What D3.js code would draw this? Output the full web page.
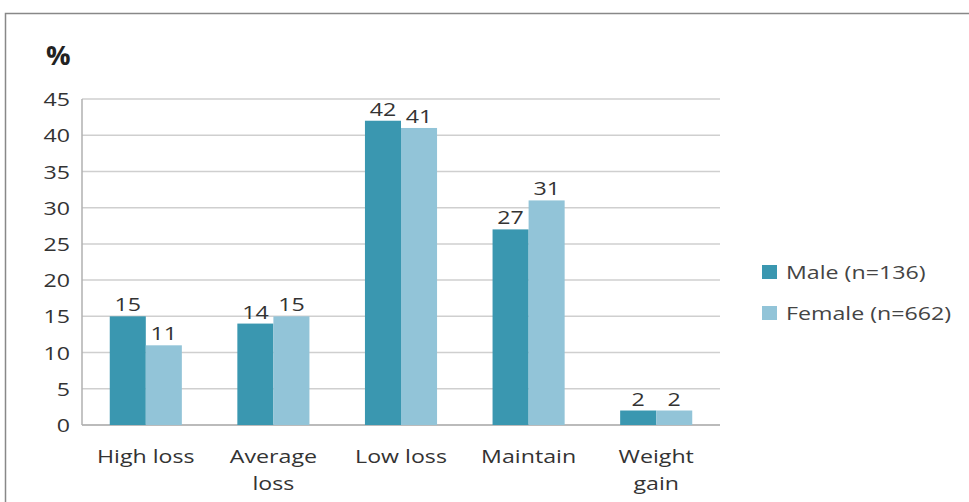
<!DOCTYPE html>
<html><head><meta charset="utf-8">
<script src="https://cdn.jsdelivr.net/npm/d3@7"></script>
<style>body{margin:0;background:#fff;} svg{display:block;}</style>
</head><body>
<script>
const categories = [["High loss"],["Average","loss"],["Low loss"],["Maintain"],["Weight","gain"]];
const seriesNames = ["Male (n=136)","Female (n=662)"];
const male = [15,14,42,27,2];
const female = [11,15,41,31,2];
const yTicks = [0,5,10,15,20,25,30,35,40,45];
const colors = ["#3a97b0","#92c4d8"];

const W=969,H=502;
const svg=d3.select("body").append("svg").attr("width",W).attr("height",H);
const font="'Open Sans', sans-serif";
const SX=1.22, FS=19;
function label(parent,x,y,txt,anchor,opts={}){
  const t=parent.append("text").attr("transform",`translate(${x},${y}) scale(${opts.sx||SX},1)`)
   .attr("text-anchor",anchor).attr("font-family",font).attr("font-size",opts.fs||FS)
   .attr("fill",opts.fill||"#333").text(txt);
  if(opts.bold) t.attr("font-weight","bold");
  return t;
}
// frame
svg.append("path").attr("d","M5.5,502 L5.5,13.5 L969,13.5").attr("fill","none").attr("stroke","#888").attr("stroke-width",1.5);

const L=82,R=720,T=99,B=425;
const x0=d3.scaleBand().domain(d3.range(categories.length)).range([L,R]).paddingInner(0.435).paddingOuter(0.2175);
const x1=d3.scaleBand().domain([0,1]).range([0,x0.bandwidth()]);
const y=d3.scaleLinear().domain([0,45]).range([B,T]);

const g=svg.append("g");
g.selectAll("line.grid").data(yTicks).join("line")
 .attr("x1",L).attr("x2",R).attr("y1",d=>y(d)).attr("y2",d=>y(d))
 .attr("stroke","#cfcfcf").attr("stroke-width",1.5);
g.append("line").attr("x1",L).attr("x2",L).attr("y1",T).attr("y2",B).attr("stroke","#b0b0b0").attr("stroke-width",1.5);
g.append("line").attr("x1",L).attr("x2",R).attr("y1",B).attr("y2",B).attr("stroke","#b0b0b0").attr("stroke-width",1.5);

// y axis via d3 axis, then restyle labels
const yAxis=d3.axisLeft(y).tickValues(yTicks).tickSize(0).tickPadding(12);
const ya=svg.append("g").attr("transform",`translate(${L},0)`).call(yAxis);
ya.select(".domain").remove();
ya.selectAll(".tick text").each(function(d){
  d3.select(this).attr("x",null).attr("dy","0.35em")
   .attr("transform",`translate(-12,0) scale(${SX},1)`)
   .attr("font-family",font).attr("font-size",FS).attr("fill","#333");
});

const series=[male,female];
series.forEach((vals,s)=>{
  g.selectAll("rect.s"+s).data(vals).join("rect")
   .attr("x",(d,i)=>x0(i)+x1(s)).attr("width",x1.bandwidth())
   .attr("y",d=>y(d)).attr("height",d=>B-y(d)).attr("fill",colors[s]);
  vals.forEach((d,i)=>label(svg,x0(i)+x1(s)+x1.bandwidth()/2,y(d)-5,d,"middle"));
});

// category labels
categories.forEach((lines,i)=>{
  lines.forEach((ln,k)=>label(svg,x0(i)+x0.bandwidth()/2,463+k*27,ln,"middle"));
});

label(svg,46,65,"%","start",{bold:true,fs:26,sx:1.05,fill:"#222"});

// legend
const lg=svg.append("g");
seriesNames.forEach((n,i)=>{
  const yy=272+i*41;
  lg.append("rect").attr("x",762).attr("y",yy-7).attr("width",15).attr("height",14).attr("fill",colors[i]);
  label(lg,786,yy+7,n,"start",{fill:"#444"});
});
</script>
</body></html>
